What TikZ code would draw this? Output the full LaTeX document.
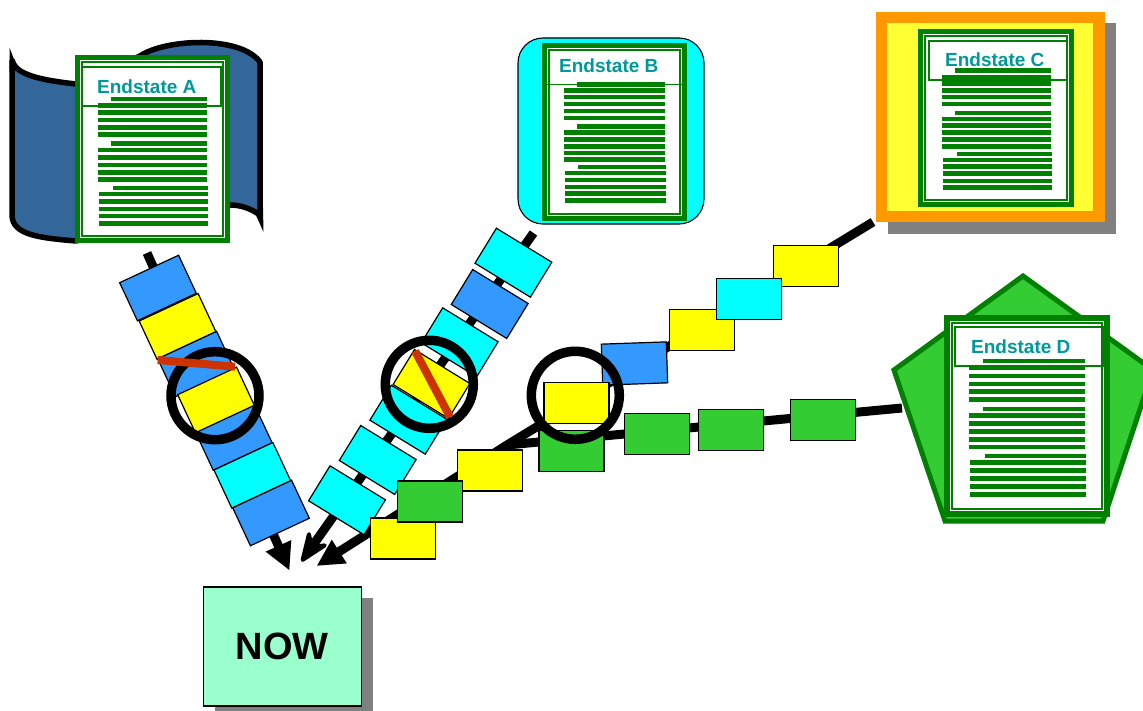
\documentclass[tikz,border=0pt]{standalone}
\usepackage{fontspec}
\setmainfont{Liberation Sans}
\usetikzlibrary{arrows.meta}
\definecolor{dkgreen}{HTML}{008000}
\definecolor{chblue}{HTML}{3399FF}
\definecolor{chyellow}{HTML}{FFFF00}
\definecolor{chcyan}{HTML}{00FFFF}
\definecolor{chgreen}{HTML}{33CC33}
\definecolor{slash}{HTML}{CC3300}
\definecolor{bannerblue}{HTML}{336699}
\definecolor{orangeframe}{HTML}{FF9900}
\definecolor{softyellow}{HTML}{FFFF33}
\definecolor{nowfill}{HTML}{99FFCC}
\definecolor{titleteal}{HTML}{009999}
\definecolor{shadowgray}{HTML}{808080}
\tikzset{
  linkline/.style={line width=9pt,black},
  linkarrow/.style={linkline,-{Triangle[length=27pt,width=26pt]}},
  swept arrow/.style={linkline,-{Stealth[length=37pt,width=29pt,inset=13pt,line width=4pt,round]}},
  chainbox/.style={draw=black,line width=1.2pt,minimum width=65pt,minimum height=41pt,inner sep=0pt,outer sep=0pt},
  blue box/.style={chainbox,fill=chblue},
  yellow box/.style={chainbox,fill=chyellow},
  cyan box/.style={chainbox,fill=chcyan},
  green box/.style={chainbox,fill=chgreen},
  ring/.style={draw=black,line width=9.5pt,fill=none},
  slashline/.style={draw=slash,line width=8pt},
  thinframe/.style={draw=dkgreen,line width=1.2pt},
  textbar/.style={draw=dkgreen,line width=4.7pt},
  doctitle/.style={font=\fontsize{19}{19}\selectfont\bfseries,text=titleteal,anchor=base west,inner sep=0pt},
}
% sheet: x0 y0 x1 y1 (outer), thick border width
\newcommand{\docsheet}[5]{%
  \fill[dkgreen] (#1,#2) rectangle (#3,#4);
  \fill[white] (#1+#5,#2+#5) rectangle (#3-#5,#4-#5);
  \draw[thinframe] (#1+#5+2,#2+#5+2) rectangle (#3-#5-2,#4-#5-2);
}
% group of bars: xl xr xshort yshort {five ys}
\newcommand{\bargroup}[5]{%
  \draw[textbar] (#3,#4) -- (#2,#4);
  \foreach \yy in {#5} {\draw[textbar] (#1,\yy) -- (#2,\yy);}
}
\begin{document}
\begin{tikzpicture}[x=1pt,y=-1pt]
\useasboundingbox (0,0) rectangle (1143,711);
\fill[white] (0,0) rectangle (1143,711);

% --- free ends of the connectors
\coordinate (startA) at (147,253);
\coordinate (tipA) at (289.5,570.5);
\coordinate (startB) at (533.5,233);
\coordinate (tipB) at (301.5,561.5);
\coordinate (startC) at (873,222);
\coordinate (merge) at (507,445);
\coordinate (tipC) at (316.5,566);
\coordinate (startD) at (902,408);

% --- connectors
\draw[linkarrow] (startA) -- (tipA);
\draw[swept arrow] (startB) -- (tipB);
\draw[linkline] (startD) -- (merge);
\draw[linkarrow] (startC) -- (merge) -- (tipC);

% --- chain A
\node[blue box,rotate=25,minimum height=42pt] (a1) at (158,288) {};
\node[blue box,rotate=25,minimum height=42pt] (a3) at (196,364) {};
\node[yellow box,rotate=25,minimum height=42pt] (a2) at (177.5,326.3) {};
\node[blue box,rotate=25,minimum height=42pt] (a5) at (233.8,437.5) {};
\node[yellow box,rotate=25,minimum height=42pt] (a4) at (216,400) {};
\node[blue box,rotate=25,minimum height=42pt] (a7) at (271,513) {};
\node[cyan box,rotate=25,minimum height=42pt] (a6) at (252.3,475.3) {};

% --- chain B
\node[cyan box,rotate=-31.5] (b1) at (513.4,262.7) {};
\node[blue box,rotate=-31.5] (b2) at (489.7,304) {};
\node[cyan box,rotate=-31.5] (b3) at (459.7,342.3) {};
\node[cyan box,rotate=-31.5] (b5) at (408.3,419.7) {};
\node[yellow box,rotate=-31.5] (b4) at (431.5,384) {};
\node[cyan box,rotate=-31.5] (b6) at (377.7,460) {};
\node[cyan box,rotate=-31.5] (b7) at (347,500.3) {};

% --- chain D (green)
\node[green box] (d1) at (823,420) {};
\node[green box] (d2) at (731,430) {};
\node[green box] (d3) at (657,434) {};
\node[green box] (d4) at (571.5,451) {};

% --- chain C
\node[yellow box] (c1) at (806,266) {};
\node[yellow box] (c3) at (702,330) {};
\node[cyan box] (c2) at (749,299) {};
\node[blue box,rotate=2] (c4) at (634.5,363.5) {};
\node[yellow box] (c5) at (576.5,403) {};
\node[yellow box] (c6) at (489.7,470.5) {};
\node[yellow box] (c8) at (403,538.5) {};
\node[green box] (c7) at (430,501.5) {};

% --- circles and strike-outs
\node[ring,circle,minimum size=88pt,inner sep=0pt] (ringA) at (215,395.7) {};
\node[ring,circle,minimum size=88pt,inner sep=0pt] (ringB) at (429.3,384.3) {};
\node[ring,circle,minimum size=88pt,inner sep=0pt] (ringC) at (575.3,395.3) {};
\coordinate (slashA1) at (157.7,360);
\coordinate (slashA2) at (235,366.7);
\coordinate (slashB1) at (415,351);
\coordinate (slashB2) at (450,417);
\draw[slashline] (slashA1) -- (slashA2);
\draw[slashline] (slashB1) -- (slashB2);

% --- NOW
\fill[shadowgray] (215,598) rectangle (373,711);
\node[draw=black,line width=1.5pt,fill=nowfill,minimum width=158pt,minimum height=119pt,inner sep=0pt,
  font=\fontsize{38}{38}\selectfont\bfseries] (now) at (282.3,646.5) {NOW};

% --- Endstate A
\draw[draw=black,line width=5.5pt,fill=bannerblue,line join=bevel]
  (12,60) .. controls (15,72) and (30,79) .. (76,84) -- (140,56)
  .. controls (165,39) and (240,35) .. (260,62) -- (260,215)
  .. controls (250,208) and (240,205) .. (230,205) -- (76,241)
  .. controls (40,238) and (12,235) .. (12,215) -- cycle;
\fill[black] (9.5,47.5) -- (18,70) -- (9.5,72) -- cycle;
\fill[black] (263.5,232) -- (255,213) -- (263,208) -- cycle;
\docsheet{75}{55}{230}{243}{5}
\draw[thinframe] (82,67) rectangle (221,106);
\node[doctitle] (titleA) at (97,94) {Endstate A};
\bargroup{98}{207}{111}{99}{105.3,112.7,120,127.3,134.7}
\bargroup{98}{207}{111}{143.7}{150,157.7,165,172.3,179.7}
\bargroup{99}{208}{113}{188}{194,201.3,209,216,223.3}

% --- Endstate B
\draw[draw=black,line width=1.1pt,fill=chcyan,rounded corners=25pt] (518,38) rectangle (704,224);
\docsheet{542}{43}{687}{221}{5}
\draw[draw=dkgreen,line width=1.2pt] (547,84.3) -- (682,84.3);
\node[doctitle] (titleB) at (559,73) {Endstate B};
\bargroup{564}{665}{577}{84.3}{90.3,97,104,111,118}
\bargroup{564}{665}{577}{126.3}{132.7,139.3,146.3,153,159.7}
\bargroup{565}{666}{578}{167}{173,180,187,193.7,200.7}

% --- Endstate C
\fill[shadowgray] (888,23) rectangle (1116,234);
\fill[orangeframe] (876,12) rectangle (1105,222);
\fill[softyellow] (887,23) rectangle (1093,211);
\docsheet{918}{29}{1074}{207}{5}
\draw[thinframe] (929,41) rectangle (1067,80);
\node[doctitle] (titleC) at (945,67) {Endstate C};
\bargroup{942}{1051}{955}{70.7}{77,83.7,90.3,97,104}
\bargroup{942}{1051}{955}{113}{119,125.7,132.7,139.7,146.3}
\bargroup{943}{1052}{957}{154}{160,166.7,173.7,181,187.7}

% --- Endstate D
\begin{scope}
  \clip (0,0) rectangle (1143,711);
  \draw[draw=dkgreen,line width=5pt,fill=chgreen,line join=miter]
    (1023,276) -- (1153,370) -- (1103,521) -- (945,521) -- (894,370) -- cycle;
\end{scope}
\docsheet{944}{315}{1110}{517}{6}
\draw[thinframe] (955,327) rectangle (1103,366);
\node[doctitle] (titleD) at (971,353.5) {Endstate D};
\bargroup{969}{1085}{983}{361}{367.7,376,384,391.7,399.7}
\bargroup{969}{1085}{983}{409}{415.7,423.7,431.7,439.3,447}
\bargroup{970}{1086}{985}{456}{462.7,470.7,478.7,486.7,494.3}
\end{tikzpicture}
\end{document}
